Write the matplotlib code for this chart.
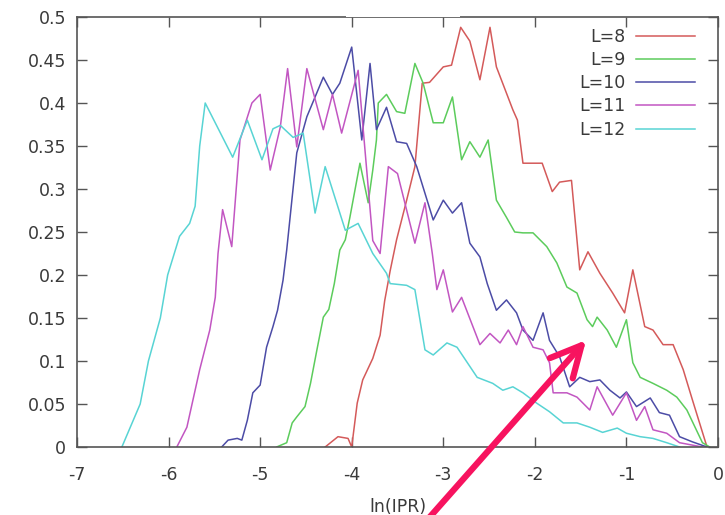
import matplotlib
matplotlib.use("Agg")
import matplotlib.pyplot as plt
from matplotlib.patches import FancyArrowPatch, Rectangle

# values
x8 = [-4.29, -4.15, -4.04, -4.00, -3.94, -3.88, -3.77, -3.69, -3.64, -3.58, -3.51, -3.40, -3.31, -3.23,
      -3.15, -3.00, -2.91, -2.81, -2.71, -2.60, -2.49, -2.42, -2.24, -2.19, -2.13, -1.92, -1.81, -1.73,
      -1.60, -1.51, -1.42, -1.29, -1.15, -1.02, -0.93, -0.80, -0.71, -0.60, -0.49, -0.38, -0.28, -0.12]
y8 = [0, 0.012, 0.01, 0, 0.051, 0.078, 0.103, 0.13, 0.17, 0.205, 0.241, 0.287, 0.326, 0.423,
      0.424, 0.442, 0.444, 0.488, 0.472, 0.427, 0.488, 0.442, 0.392, 0.38, 0.33, 0.33, 0.297, 0.308,
      0.31, 0.206, 0.227, 0.202, 0.179, 0.156, 0.206, 0.14, 0.136, 0.119, 0.119, 0.09, 0.055, 0]

x9 = [-4.82, -4.71, -4.65, -4.60, -4.51, -4.45, -4.38, -4.31, -4.25, -4.19, -4.13, -4.07, -4.02, -3.91,
      -3.82, -3.77, -3.73, -3.71, -3.62, -3.51, -3.42, -3.31, -3.22, -3.11, -3.00, -2.90, -2.80, -2.71,
      -2.60, -2.51, -2.42, -2.31, -2.22, -2.13, -2.02, -1.87, -1.76, -1.65, -1.54, -1.43, -1.37, -1.32,
      -1.21, -1.11, -1.00, -0.93, -0.85, -0.71, -0.56, -0.45, -0.34, -0.17, -0.09]
y9 = [0, 0.005, 0.028, 0.035, 0.047, 0.074, 0.113, 0.151, 0.16, 0.19, 0.229, 0.241, 0.267, 0.33,
      0.284, 0.322, 0.357, 0.40, 0.41, 0.39, 0.388, 0.446, 0.423, 0.377, 0.377, 0.407, 0.334, 0.355,
      0.337, 0.357, 0.287, 0.267, 0.25, 0.249, 0.249, 0.233, 0.214, 0.186, 0.179, 0.148, 0.14, 0.151,
      0.136, 0.116, 0.148, 0.098, 0.081, 0.074, 0.066, 0.058, 0.043, 0.005, 0]

x10 = [-5.42, -5.35, -5.25, -5.20, -5.14, -5.08, -5.00, -4.93, -4.86, -4.81, -4.75, -4.71, -4.60, -4.49,
       -4.31, -4.21, -4.13, -4.00, -3.89, -3.80, -3.73, -3.62, -3.51, -3.40, -3.29, -3.11, -3.00, -2.90,
       -2.80, -2.71, -2.60, -2.52, -2.42, -2.31, -2.20, -2.13, -2.02, -1.91, -1.84, -1.73, -1.62, -1.51,
       -1.40, -1.29, -1.18, -1.07, -1.00, -0.89, -0.74, -0.64, -0.53, -0.42, -0.28, -0.12]
y10 = [0, 0.008, 0.01, 0.008, 0.031, 0.063, 0.072, 0.116, 0.14, 0.159, 0.194, 0.229, 0.342, 0.384,
       0.43, 0.41, 0.423, 0.465, 0.357, 0.446, 0.369, 0.395, 0.355, 0.353, 0.326, 0.264, 0.287, 0.272,
       0.284, 0.237, 0.221, 0.19, 0.159, 0.171, 0.156, 0.136, 0.124, 0.156, 0.124, 0.105, 0.07, 0.081,
       0.076, 0.078, 0.066, 0.057, 0.064, 0.047, 0.057, 0.04, 0.037, 0.012, 0.006, 0]

x11 = [-5.91, -5.80, -5.66, -5.55, -5.49, -5.46, -5.41, -5.31, -5.22, -5.09, -5.00, -4.89, -4.78, -4.70,
       -4.60, -4.49, -4.31, -4.21, -4.11, -3.93, -3.77, -3.69, -3.60, -3.50, -3.31, -3.20, -3.12, -3.07,
       -3.00, -2.90, -2.80, -2.60, -2.49, -2.38, -2.29, -2.20, -2.13, -2.02, -1.91, -1.84, -1.80, -1.65,
       -1.54, -1.40, -1.32, -1.15, -1.00, -0.89, -0.80, -0.71, -0.56, -0.42, -0.17]
y11 = [0, 0.023, 0.09, 0.136, 0.174, 0.225, 0.276, 0.233, 0.357, 0.40, 0.41, 0.322, 0.372, 0.44,
       0.349, 0.44, 0.369, 0.41, 0.365, 0.438, 0.24, 0.225, 0.326, 0.318, 0.237, 0.284, 0.225, 0.183,
       0.206, 0.157, 0.174, 0.119, 0.132, 0.121, 0.136, 0.119, 0.14, 0.116, 0.113, 0.098, 0.063, 0.063,
       0.058, 0.043, 0.07, 0.037, 0.063, 0.031, 0.047, 0.02, 0.016, 0.005, 0]

x12 = [-6.51, -6.31, -6.22, -6.09, -6.01, -5.88, -5.77, -5.71, -5.66, -5.60, -5.30, -5.14, -4.98, -4.86,
       -4.78, -4.64, -4.53, -4.40, -4.29, -4.07, -3.93, -3.77, -3.62, -3.58, -3.40, -3.31, -3.20, -3.11,
       -2.96, -2.85, -2.63, -2.46, -2.35, -2.24, -2.13, -1.98, -1.84, -1.69, -1.54, -1.40, -1.26, -1.10,
       -1.00, -0.85, -0.71, -0.56, -0.42]
y12 = [0, 0.05, 0.10, 0.15, 0.20, 0.245, 0.26, 0.28, 0.35, 0.40, 0.337, 0.38, 0.334, 0.37,
       0.374, 0.36, 0.365, 0.272, 0.326, 0.252, 0.26, 0.225, 0.202, 0.19, 0.188, 0.183, 0.113, 0.107,
       0.121, 0.116, 0.081, 0.074, 0.066, 0.07, 0.063, 0.051, 0.041, 0.028, 0.028, 0.023, 0.017, 0.022,
       0.016, 0.012, 0.010, 0.005, 0]

labels = ["L=8", "L=9", "L=10", "L=11", "L=12"]
colors = ["#d45a5a", "#5ccc5c", "#4c4ca6", "#c256c2", "#58d4d4"]
xticks = [-7, -6, -5, -4, -3, -2, -1, 0]
yticks = [0, 0.05, 0.1, 0.15, 0.2, 0.25, 0.3, 0.35, 0.4, 0.45, 0.5]
ytick_labels = ["0", "0.05", "0.1", "0.15", "0.2", "0.25", "0.3", "0.35", "0.4", "0.45", "0.5"]

fig = plt.figure(figsize=(7.25, 5.15), dpi=100)
ax = fig.add_axes([77 / 725, 1 - 447 / 515, 641 / 725, 430 / 515])

for xs, ys, lab, c in zip([x8, x9, x10, x11, x12], [y8, y9, y10, y11, y12], labels, colors):
    ax.plot(xs, ys, color=c, lw=1.1, label=lab)

ax.set_xlim(-7, 0)
ax.set_ylim(0, 0.5)
ax.set_xticks(xticks)
ax.set_xticklabels([str(t) for t in xticks])
ax.set_yticks(yticks)
ax.set_yticklabels(ytick_labels)
ax.tick_params(direction="in", length=7, width=1, color="#555555", labelsize=12.5,
               labelcolor="#3a3a3a", top=True, right=True, pad=8)
ax.tick_params(axis="x", pad=14)
for s in ax.spines.values():
    s.set_color("#555555")
    s.set_linewidth(1.2)
ax.set_xlabel("ln(IPR)", fontsize=12.5, color="#3a3a3a", labelpad=10)

leg = ax.legend(loc="upper right", bbox_to_anchor=(0.964, 0.975), frameon=False, markerfirst=False,
                fontsize=12.5, handlelength=3.4, handletextpad=0.6, labelspacing=0.3,
                borderpad=0, borderaxespad=0)
for t in leg.get_texts():
    t.set_color("#3a3a3a")

# white patch hiding part of the top border, as in the picture
fig.add_artist(Rectangle((346 / 725, 1 - 16.5 / 515), 114 / 725, 16.5 / 515,
                         transform=fig.transFigure, facecolor="white", edgecolor="none", zorder=5))

# pink arrow drawn over the figure
arrow = FancyArrowPatch((427 / 725, -0.01), (588 / 725, 1 - 338 / 515), transform=fig.transFigure,
                        arrowstyle="->,head_length=1.1,head_width=0.55", mutation_scale=20,
                        color="#f7135f", lw=4.5, zorder=6)
fig.add_artist(arrow)

fig.savefig("out.png", dpi=100)
